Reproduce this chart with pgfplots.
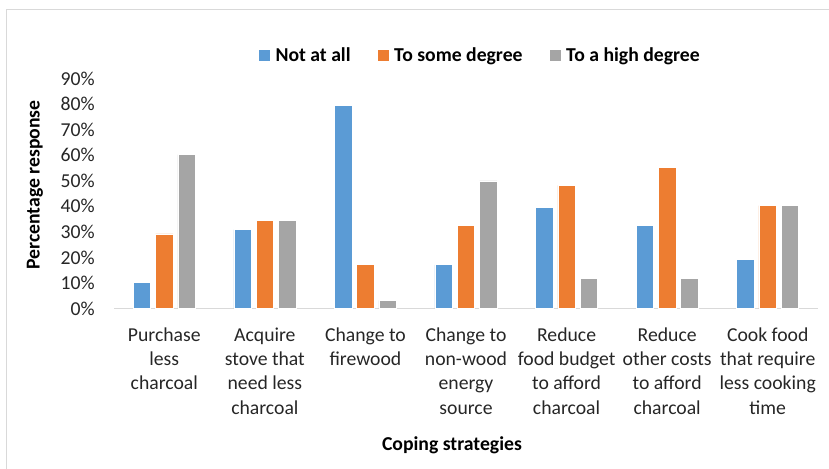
\documentclass[border=0pt]{standalone}
\usepackage{pgfplots}
\pgfplotsset{compat=1.18}
\usepackage{fontspec}
\setmainfont{Carlito}
\definecolor{cblue}{HTML}{5B9BD5}
\definecolor{corange}{HTML}{ED7D31}
\definecolor{cgray}{HTML}{A5A5A5}
\definecolor{frame}{HTML}{D9D9D9}
\begin{document}
\begin{tikzpicture}[x=1pt,y=1pt]
\useasboundingbox (0,0) rectangle (829,468);
\draw[frame, line width=1.5pt] (6.5,458.5) rectangle (900,-50);
\begin{axis}[
  at={(114pt,159.5pt)}, anchor=south west,
  scale only axis, width=704pt, height=230pt,
  ybar=4.8pt, bar width=17.5pt,
  xmin=-0.5, xmax=6.5, ymin=0, ymax=90,
  axis y line*=left,
  axis x line*=bottom,
  y axis line style={draw=none},
  x axis line style={frame, line width=1.5pt, -},
  major tick length=0pt,
  xtick={0,1,2,3,4,5,6},
  xticklabels={{Purchase\\less\\charcoal},{Acquire\\stove that\\need less\\charcoal},{Change to\\firewood},{Change to\\non-wood\\energy\\source},{Reduce\\food budget\\to afford\\charcoal},{Reduce\\other costs\\to afford\\charcoal},{Cook food\\that require\\less cooking\\time}},
  xticklabel style={align=center, anchor=north, inner sep=0pt, yshift=-19pt, font=\fontsize{19.7}{24.3}\selectfont, text=black!85},
  ytick={0,10,...,90},
  yticklabels={0\%,10\%,20\%,30\%,40\%,50\%,60\%,70\%,80\%,90\%},
  yticklabel style={anchor=east, inner sep=0pt, xshift=-19pt, font=\fontsize{19.7}{24.3}\selectfont, text=black!85},
  xlabel={Coping strategies},
  ylabel={Percentage response},
  xlabel style={at={(axis description cs:0.480,-0.5935)}, anchor=center, font=\fontsize{19.7}{24}\selectfont\bfseries},
  ylabel style={at={(axis description cs:-0.1122,0.537)}, anchor=center, font=\fontsize{19.7}{24}\selectfont\bfseries},
  legend columns=3,
  legend style={draw=none, fill=none, at={(axis description cs:0.2045,1.102)}, anchor=west, inner sep=0pt, outer sep=0pt,
    nodes={inner sep=0pt, font=\fontsize{19.7}{24}\selectfont\bfseries},
    /tikz/every odd column/.append style={column sep=5pt},
    /tikz/every even column/.append style={column sep=26pt}},
  legend image code/.code={\fill[#1] (0pt,-6pt) rectangle (12pt,6pt);},
]
\addplot[fill=cblue, draw=white, line width=0.6pt] coordinates {(0,10.2) (1,30.9) (2,79.5) (3,17.1) (4,39.6) (5,32.6) (6,19.2)};
\addplot[fill=corange, draw=white, line width=0.6pt] coordinates {(0,29.2) (1,34.4) (2,17.1) (3,32.6) (4,48.2) (5,55.2) (6,40.3)};
\addplot[fill=cgray, draw=white, line width=0.6pt] coordinates {(0,60.2) (1,34.4) (2,3.2) (3,49.9) (4,11.7) (5,11.7) (6,40.3)};
\legend{Not at all, To some degree, To a high degree}
\end{axis}
\end{tikzpicture}
\end{document}
